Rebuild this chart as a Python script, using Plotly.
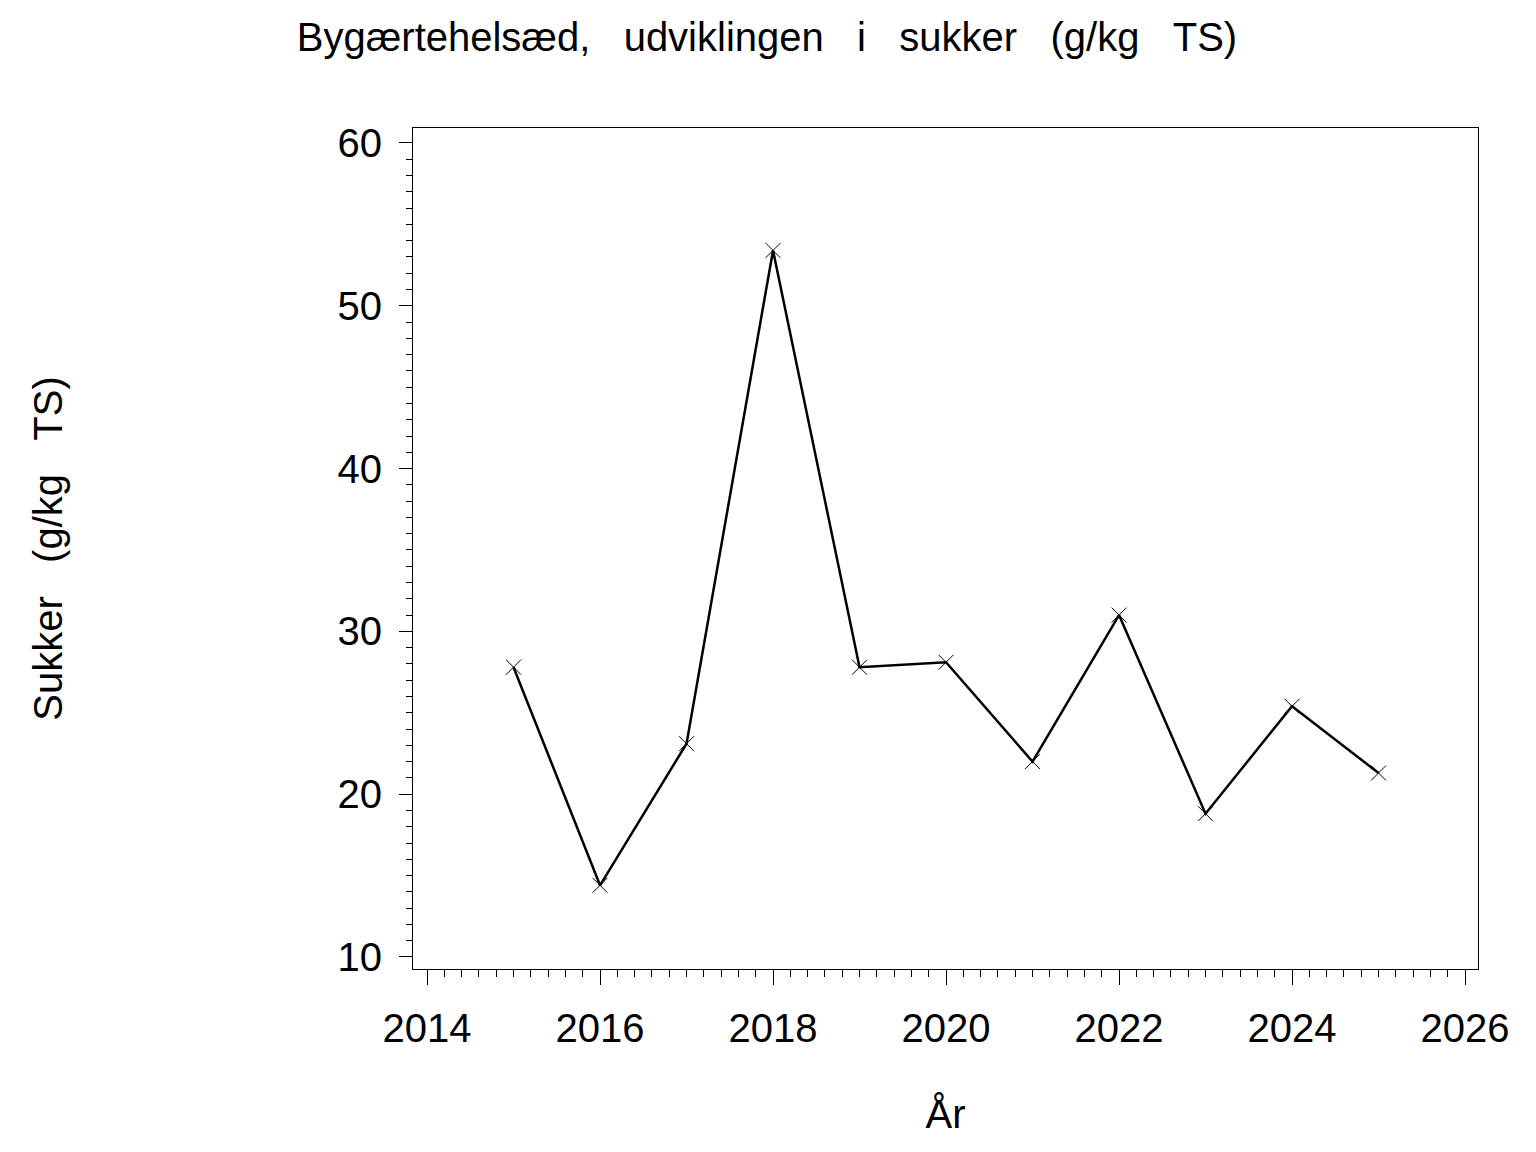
import plotly.graph_objects as go

years = [2015, 2016, 2017, 2018, 2019, 2020, 2021, 2022, 2023, 2024, 2025]
sukker = [27.8, 14.4, 23.1, 53.4, 27.8, 28.1, 22.0, 31.0, 18.8, 25.4, 21.3]
x_ticks = [2014, 2016, 2018, 2020, 2022, 2024, 2026]
y_ticks = [10, 20, 30, 40, 50, 60]

title_words = ["Bygærtehelsæd,", "udviklingen", "i", "sukker", "(g/kg", "TS)"]
x_title = "År"
y_title_words = ["Sukker", "(g/kg", "TS)"]

FONT = "Liberation Sans, Arial, sans-serif"

title_text = "\u00a0\u00a0\u00a0".join(title_words)
y_title = "\u00a0\u00a0\u00a0".join(y_title_words)

fig = go.Figure()
fig.add_trace(go.Scatter(
    x=years, y=sukker, mode="lines+markers",
    line=dict(color="black", width=2.5),
    marker=dict(symbol="x-thin", size=15, line=dict(color="black", width=1), color="black"),
    showlegend=False,
))

fig.update_layout(
    width=1536, height=1152,
    paper_bgcolor="white", plot_bgcolor="white",
    margin=dict(l=405, r=66, t=120, b=191),
    font=dict(family=FONT, color="black"),
    title=dict(text=title_text, x=759/1536, xanchor="center", y=1 - 29/1152, yanchor="middle",
               font=dict(size=40, family=FONT, color="black")),
    xaxis=dict(
        range=[2013.838, 2026.15], tickvals=x_ticks, ticktext=[str(v) for v in x_ticks],
        showgrid=False, zeroline=False, showline=True, linecolor="black", linewidth=1, mirror=True,
        ticks="outside", ticklen=15, tickwidth=1, tickcolor="black",
        minor=dict(dtick=0.2, tick0=2014, ticks="outside", ticklen=7, tickwidth=1, tickcolor="black", showgrid=False),
        tickfont=dict(size=40, family=FONT, color="black"),
        ticklabelstandoff=9,
        title=dict(text=x_title, font=dict(size=40, family=FONT, color="black"), standoff=50),
    ),
    yaxis=dict(
        range=[9.26, 60.92], tickvals=y_ticks, ticktext=[str(v) for v in y_ticks],
        showgrid=False, zeroline=False, showline=True, linecolor="black", linewidth=1, mirror=True,
        ticks="outside", ticklen=13, tickwidth=1, tickcolor="black",
        minor=dict(dtick=1, tick0=10, ticks="outside", ticklen=6, tickwidth=1, tickcolor="black", showgrid=False),
        tickfont=dict(size=40, family=FONT, color="black"),
        ticklabelstandoff=9,
        title=dict(text=y_title, font=dict(size=40, family=FONT, color="black"), standoff=262),
    ),
)

fig.write_html("out.html")
